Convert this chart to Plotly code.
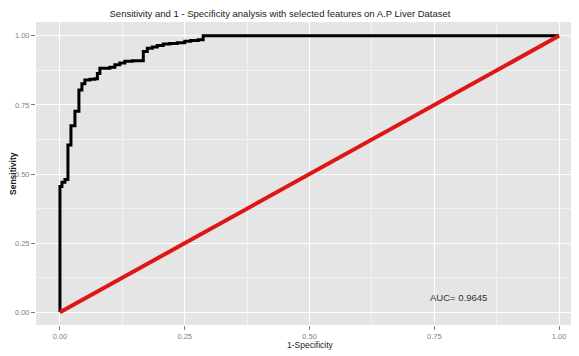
import plotly.graph_objects as go

# ROC curve values (1-specificity, sensitivity)
fpr = [0, 0, 0.004, 0.010, 0.016, 0.022, 0.030, 0.038, 0.044, 0.050, 0.060, 0.070,
       0.075, 0.080, 0.090, 0.100, 0.110, 0.120, 0.130, 0.145, 0.157, 0.167, 0.175,
       0.185, 0.195, 0.207, 0.220, 0.235, 0.250, 0.262, 0.277, 0.287, 1.0]
tpr = [0, 0.455, 0.470, 0.480, 0.605, 0.675, 0.727, 0.804, 0.827, 0.840, 0.843, 0.845,
       0.864, 0.883, 0.883, 0.886, 0.895, 0.902, 0.908, 0.910, 0.910, 0.943, 0.955,
       0.960, 0.965, 0.970, 0.972, 0.975, 0.980, 0.983, 0.986, 1.0, 1.0]
diag_x = [0, 1]
diag_y = [0, 1]
tick_vals = [0, 0.25, 0.5, 0.75, 1.0]
tick_text = ["0.00", "0.25", "0.50", "0.75", "1.00"]
auc_label = "AUC= 0.9645"
auc_pos = (0.798, 0.052)

FONT = "Liberation Sans Narrow, Liberation Sans, Arial, sans-serif"

# the page body has an 8px margin, so the figure is sized/placed to compensate
W, H = 571, 348

fig = go.Figure()
fig.add_trace(go.Scatter(x=fpr, y=tpr, mode="lines", line=dict(color="black", width=3, shape="hv"),
                         showlegend=False, hoverinfo="skip"))
fig.add_trace(go.Scatter(x=diag_x, y=diag_y, mode="lines", line=dict(color="rgb(222,22,22)", width=4),
                         showlegend=False, hoverinfo="skip"))

axis_common = dict(
    tickvals=tick_vals, ticktext=tick_text, showgrid=True, gridcolor="white", gridwidth=1,
    zeroline=False, showline=False, ticks="outside", ticklen=4, tickcolor="#7f7f7f",
    tickfont=dict(family=FONT, size=7.5, color="#7f7f7f"), automargin=False,
    minor=dict(tick0=0.125, dtick=0.25, showgrid=True, gridcolor="#F2F2F2", gridwidth=0.5, ticks=""),
)

fig.update_layout(
    width=W, height=H,
    margin=dict(l=28, r=0, t=14, b=31),
    paper_bgcolor="white", plot_bgcolor="#E5E5E5",
    title=dict(text="Sensitivity and 1 - Specificity analysis with selected features on A.P Liver Dataset",
               xref="container", yref="container", x=272 / W, y=1 - 6 / H,
               xanchor="center", yanchor="middle",
               font=dict(family=FONT, size=9.5, color="#222")),
    xaxis=dict(range=[-0.048, 1.04], **axis_common),
    yaxis=dict(range=[-0.046, 1.05], **axis_common),
    annotations=[
        dict(text=auc_label, x=auc_pos[0], y=auc_pos[1], xref="x", yref="y", showarrow=False,
             font=dict(family=FONT, size=9.5, color="#333")),
        dict(text="<b>Sensitivity</b>", x=(5 - 28) / 543, y=(325 - 174) / 303, xref="paper", yref="paper",
             textangle=-90, showarrow=False, xanchor="center", yanchor="middle",
             font=dict(family=FONT, size=8.5, color="#222")),
        dict(text="1-Specificity", x=(302 - 28) / 543, y=-(345 - 325) / 303, xref="paper", yref="paper",
             showarrow=False, xanchor="center", yanchor="middle",
             font=dict(family=FONT, size=8.5, color="#222")),
    ],
)

fig.write_html("out.html")
